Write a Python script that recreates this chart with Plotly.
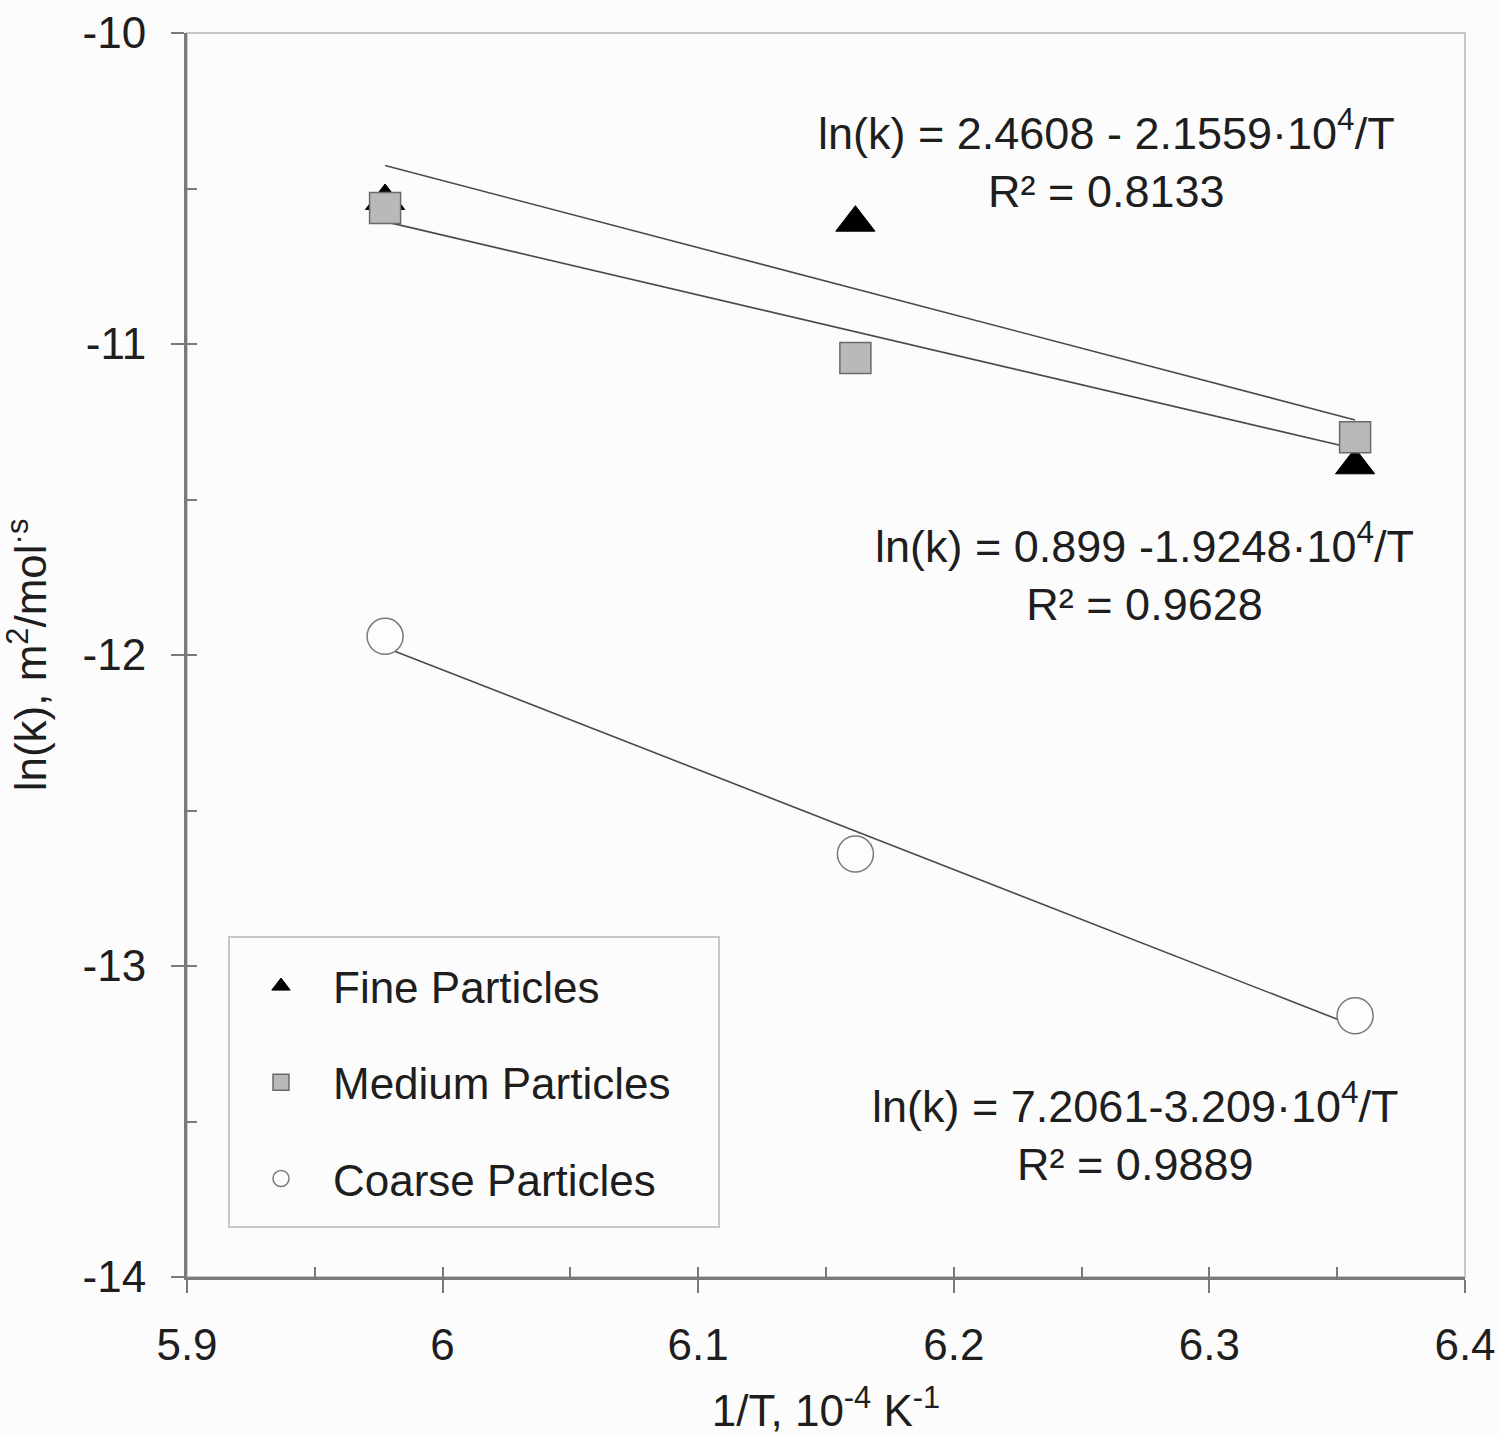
import plotly.graph_objects as go

# ---- data ----
inv_T = [5.9775, 6.1615, 6.3570]          # 1/T, 10^-4 K^-1
fine = [-10.54, -10.61, -11.39]            # ln(k)
medium = [-10.563, -11.045, -11.300]
coarse = [-11.940, -12.640, -13.160]

series_names = ["Fine Particles", "Medium Particles", "Coarse Particles"]
# trendline coefficients: ln(k) = a - b * (1/T)
fit_a = [2.4608, 0.899, 7.2061]
fit_b = [2.1559, 1.9248, 3.209]
fit_labels = [
    "ln(k) = 2.4608 - 2.1559·10<sup>4</sup>/T<br>R² = 0.8133",
    "ln(k) = 0.899 -1.9248·10<sup>4</sup>/T<br>R² = 0.9628",
    "ln(k) = 7.2061-3.209·10<sup>4</sup>/T<br>R² = 0.9889",
]
label_pos = [(6.2597, -10.405), (6.2748, -11.733), (6.2709, -13.534)]

x_ticks = [5.9, 6.0, 6.1, 6.2, 6.3, 6.4]
x_tick_text = ["5.9", "6", "6.1", "6.2", "6.3", "6.4"]
y_ticks = [-14, -13, -12, -11, -10]
y_tick_text = ["-14", "-13", "-12", "-11", "-10"]

FONT = "Liberation Sans, Arial, sans-serif"
AX = "#7a7a7a"
TXT = "#1e1e1e"
FS = 44
BG = "#fcfcfc"

# plot-area geometry in pixels
W, H = 1501, 1436
ML, MR, MT, MB = 187, 36, 33, 159
PW, PH = W - ML - MR, H - MT - MB


def px_to_paper(xp, yp):
    return (xp - ML) / PW, (H - MB - yp) / PH


fig = go.Figure()

# trendlines
for a, b in zip(fit_a, fit_b):
    xs = [inv_T[0], inv_T[-1]]
    fig.add_trace(go.Scatter(x=xs, y=[a - b * v for v in xs], mode="lines",
                             line=dict(color="#4a4a4a", width=1.6),
                             showlegend=False, hoverinfo="skip"))

fig.add_trace(go.Scatter(x=inv_T, y=fine, mode="markers", name=series_names[0],
                         legendgroup="a",
                         marker=dict(symbol="triangle-up", size=34, color="black",
                                     line=dict(color="black", width=1))))
fig.add_trace(go.Scatter(x=inv_T, y=medium, mode="markers", name=series_names[1],
                         legendgroup="b",
                         marker=dict(symbol="square", size=31, color="#b9b9b9",
                                     line=dict(color="#6a6a6a", width=1.5))))
fig.add_trace(go.Scatter(x=inv_T, y=coarse, mode="markers", name=series_names[2],
                         legendgroup="c",
                         marker=dict(symbol="circle", size=36, color="#fdfdfd",
                                     line=dict(color="#7a7a7a", width=1.5))))

# overlay axes carrying the inside part of the ticks
fig.add_trace(go.Scatter(x=[], y=[], xaxis="x2", yaxis="y2", showlegend=False))

for (lx, ly), t in zip(label_pos, fit_labels):
    fig.add_annotation(x=lx, y=ly, text=t, showarrow=False, xanchor="center",
                       yanchor="middle", font=dict(size=45, color=TXT, family=FONT))

# light top / right frame
fig.add_shape(type="rect", xref="paper", yref="paper", x0=0, y0=0, x1=1, y1=1,
              line=dict(color="#c8c8c8", width=2), layer="below")

# legend frame
lx0, ly0 = px_to_paper(229, 1227)
lx1, ly1 = px_to_paper(719, 937)
fig.add_shape(type="rect", xref="paper", yref="paper", x0=lx0, y0=ly0, x1=lx1, y1=ly1,
              line=dict(color="#c8c8c8", width=2), fillcolor=BG, layer="below")

leg_x, leg_y = px_to_paper(229, 951)

fig.update_layout(
    width=W, height=H,
    margin=dict(l=ML, r=MR, t=MT, b=MB),
    paper_bgcolor=BG, plot_bgcolor=BG,
    font=dict(family=FONT, size=FS, color=TXT),
    xaxis=dict(range=[5.9, 6.4], tickvals=x_ticks, ticktext=x_tick_text,
               ticks="outside", ticklen=13, tickwidth=2, tickcolor=AX,
               showline=True, linecolor=AX, linewidth=3, showgrid=False,
               zeroline=False, tickfont=dict(size=FS, color=TXT),
               ticklabelstandoff=14, automargin=False,
               title=dict(text="1/T, 10<sup>-4</sup> K<sup>-1</sup>",
                          font=dict(size=FS, color=TXT), standoff=28)),
    yaxis=dict(range=[-14, -10], tickvals=y_ticks, ticktext=y_tick_text,
               ticks="outside", ticklen=13, tickwidth=2, tickcolor=AX,
               showline=True, linecolor=AX, linewidth=3, showgrid=False,
               zeroline=False, tickfont=dict(size=FS, color=TXT),
               ticklabelstandoff=16, automargin=False,
               title=dict(text="ln(k), m<sup>2</sup>/mol<sup>·s</sup>",
                          font=dict(size=FS, color=TXT), standoff=24)),
    xaxis2=dict(range=[5.9, 6.4], overlaying="x", anchor="y2", side="bottom",
                dtick=0.05, tick0=5.9, ticks="inside", ticklen=10, tickwidth=2,
                tickcolor=AX, showticklabels=False, showline=False,
                showgrid=False, zeroline=False, automargin=False),
    yaxis2=dict(range=[-14, -10], overlaying="y", anchor="x2", side="left",
                dtick=0.5, tick0=-14, ticks="inside", ticklen=10, tickwidth=2,
                tickcolor=AX, showticklabels=False, showline=False,
                showgrid=False, zeroline=False, automargin=False),
    legend=dict(x=leg_x, y=leg_y, xanchor="left", yanchor="top",
                bgcolor="rgba(0,0,0,0)", borderwidth=0,
                font=dict(size=FS, color=TXT), tracegroupgap=36,
                traceorder="grouped", itemwidth=94),
    showlegend=True,
)

fig.write_html("out.html")
